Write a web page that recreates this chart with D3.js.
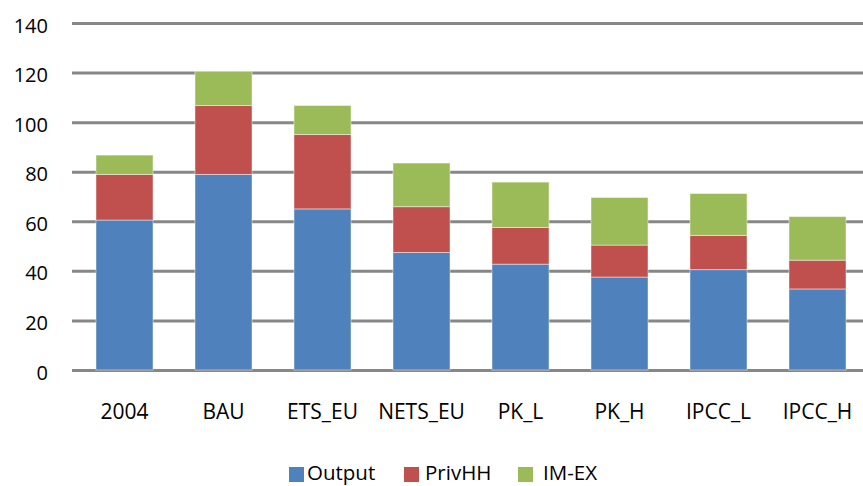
<!DOCTYPE html>
<html>
<head>
<meta charset="utf-8">
<script src="https://cdn.jsdelivr.net/npm/d3@7"></script>
<style>
  body { margin: 0; background: #fff; }
  svg, .axis { display: block; font-family: "Open Sans", "Lato", sans-serif; }
  .axis path { display: none; }
  .axis--y .tick line { stroke: #878787; stroke-width: 3; }
  .axis--y .tick text { font-size: 20px; fill: #000; }
  .axis--x .tick text { font-size: 21px; fill: #000; }
  .axis--x .tick line { display: none; }
</style>
</head>
<body>
<svg id="chart" width="863" height="486"></svg>
<script>
var categories = ["2004", "BAU", "ETS_EU", "NETS_EU", "PK_L", "PK_H", "IPCC_L", "IPCC_H"];
var seriesNames = ["Output", "PrivHH", "IM-EX"];
var output = [60.5, 78.9, 65.0, 47.4, 42.7, 37.5, 40.5, 32.7];
var privHH = [18.4, 27.8, 30.0, 18.5, 14.8, 12.9, 13.8, 11.6];
var imEx   = [7.8, 13.8, 11.7, 17.6, 18.3, 19.2, 16.9, 17.6];
var colors = ["#4F81BD", "#C0504D", "#9BBB59"];
var yTickValues = [0, 20, 40, 60, 80, 100, 120, 140];

var svg = d3.select("#chart");
var margin = {top: 23, right: 0, bottom: 116, left: 72}
    , width = 863 - margin.left - margin.right
    , height = 370 - margin.top
    , g = svg.append("g").attr("transform", "translate(" + margin.left + "," + margin.top + ")");

var rows = categories.map(function(c, i) {
    return {cat: c, "Output": output[i], "PrivHH": privHH[i], "IM-EX": imEx[i]};
});

var x = d3.scaleBand()
    .domain(categories)
    .range([3, 795])
    .paddingInner(0.424)
    .paddingOuter(0.212);

var y = d3.scaleLinear()
    .domain([0, 140])
    .range([height, 0]);

var yAxis = d3.axisLeft(y)
    .tickValues(yTickValues)
    .tickSizeOuter(0)
    .tickSizeInner(-width)
    .tickPadding(24);

g.append("g")
    .attr("class", "axis axis--y")
    .call(yAxis)
    .selectAll(".tick text").attr("dy", "0.45em");

var xAxis = d3.axisBottom(x)
    .tickSize(0)
    .tickPadding(34);

g.append("g")
    .attr("class", "axis axis--x")
    .attr("transform", "translate(0," + height + ")")
    .call(xAxis);

var stacked = d3.stack().keys(seriesNames)(rows);

g.append("g").selectAll("g.series")
    .data(stacked)
    .enter()
    .append("g")
    .attr("class", "series")
    .attr("fill", function(d, i) { return colors[i]; })
    .selectAll("rect")
    .data(function(d) { return d; })
    .enter()
    .append("rect")
    .attr("x", function(d) { return x(d.data.cat); })
    .attr("width", x.bandwidth())
    .attr("y", function(d) { return y(d[1]); })
    .attr("height", function(d) { return y(d[0]) - y(d[1]); })
    .attr("stroke", "rgba(255,255,255,0.45)")
    .attr("stroke-width", 1);

// legend (square x, text x)
var legendPos = [[289, 307], [404, 425], [518, 543]];
var legend = svg.append("g").attr("class", "legend");
var li = legend.selectAll("g")
    .data(seriesNames)
    .enter()
    .append("g");
li.append("rect")
    .attr("x", function(d, i) { return legendPos[i][0]; })
    .attr("y", 467)
    .attr("width", 15)
    .attr("height", 15)
    .attr("fill", function(d, i) { return colors[i]; });
li.append("text")
    .attr("x", function(d, i) { return legendPos[i][1]; })
    .attr("y", 480)
    .attr("font-size", 20.5)
    .text(function(d) { return d; });
</script>
</body>
</html>
